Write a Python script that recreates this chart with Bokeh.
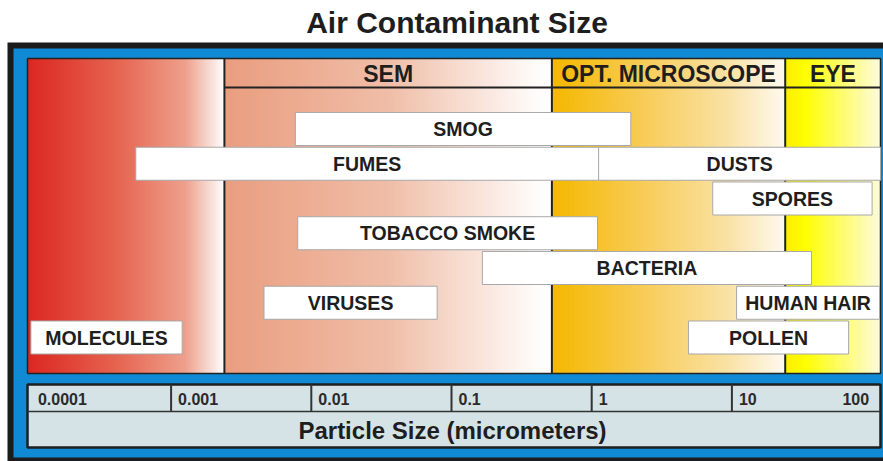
import numpy as np
from bokeh.plotting import figure
from bokeh.models import Range1d, LinearScale, ColumnDataSource
from bokeh.core.properties import value
from bokeh.embed import file_html
from bokeh.resources import INLINE

# ---------------- data ----------------
TITLE = "Air Contaminant Size"
AXIS_LABEL = "Particle Size (micrometers)"

contaminants = ["SMOG", "FUMES", "DUSTS", "SPORES", "TOBACCO SMOKE",
                "BACTERIA", "VIRUSES", "HUMAN HAIR", "MOLECULES", "POLLEN"]
size_min = [0.0077, 0.00056, 1.12, 7.3, 0.008, 0.166, 0.0046, 10.8, 0.0001, 4.9]
size_max = [1.9, 1.12, 115.0, 100.0, 1.1, 37.0, 0.079, 113.0, 0.0012, 68.0]
row = [0, 1, 1, 2, 3, 4, 5, 5, 6, 6]

region_names = ["", "SEM", "OPT. MICROSCOPE", "EYE"]
region_edges = [0.000095, 0.0024, 0.52, 24.0, 115.0]

tick_values = [0.0001, 0.001, 0.01, 0.1, 1, 10, 100]
tick_labels = ["0.0001", "0.001", "0.01", "0.1", "1", "10", "100"]

# ---------------- layout / style ----------------
W, H = 883, 461
PX_LEFT, PX_RIGHT, PX_BOTTOM, PX_TOP = 0, 883, 461, 0
PX_AT_ONE, PX_PER_DECADE = 591.2, 140.2
ROW0, ROW_H = 128.5, 34.75
FONT = value("Liberation Sans")
INK = "#1e1e1e"

region_stops = [
    [(0.0, (220, 40, 34)), (0.45, (230, 100, 80)), (0.8, (238, 160, 140)), (1.0, (255, 255, 255))],
    [(0.0, (234, 158, 128)), (0.5, (240, 190, 168)), (0.95, (255, 252, 250)), (1.0, (255, 255, 255))],
    [(0.0, (245, 185, 0)), (0.4, (248, 205, 90)), (0.75, (250, 226, 165)), (1.0, (255, 250, 240))],
    [(0.0, (255, 238, 0)), (0.2, (255, 255, 0)), (1.0, (255, 252, 222))],
]

def px_to_um(px):
    return 10 ** ((px - PX_AT_ONE) / PX_PER_DECADE)

p = figure(width=W, height=H, x_axis_type="log",
           x_range=Range1d(px_to_um(PX_LEFT), px_to_um(PX_RIGHT)),
           y_range=Range1d((PX_BOTTOM - ROW0) / ROW_H, (PX_TOP - ROW0) / ROW_H),
           output_backend="svg", toolbar_location=None, title=None,
           min_border=0, x_axis_location=None, y_axis_location=None,
           outline_line_color=None, background_fill_color="white",
           border_fill_color="white")
p.grid.visible = False
p.extra_x_ranges = {"px": Range1d(PX_LEFT, PX_RIGHT)}
p.extra_x_scales = {"px": LinearScale()}
p.extra_y_ranges = {"px": Range1d(PX_BOTTOM, PX_TOP)}

PX = dict(x_range_name="px", y_range_name="px")

# outer frame
p.quad(left=[7], right=[900], top=[42], bottom=[480], fill_color="#1b1b1b", line_color=None, **PX)
p.quad(left=[13], right=[900], top=[48], bottom=[457], fill_color="#118ad5", line_color=None, **PX)

# gradient regions
CH_TOP, CH_BOT = 58, 373
for i in range(4):
    la, lb = np.log10(region_edges[i]), np.log10(region_edges[i + 1])
    n = 140
    t = np.linspace(0, 1, n + 1)
    lefts = 10 ** (la + (lb - la) * t[:-1])
    rights = 10 ** (la + (lb - la) * np.minimum(t[1:] + 1.0 / n, 1.0))
    tm = (t[:-1] + t[1:]) / 2
    st = [s[0] for s in region_stops[i]]
    cols = []
    for c in range(3):
        cols.append(np.interp(tm, st, [s[1][c] for s in region_stops[i]]))
    colors = ["#%02x%02x%02x" % (int(r), int(g), int(b)) for r, g, b in zip(*cols)]
    p.quad(left=lefts, right=rights, top=CH_TOP, bottom=CH_BOT, fill_color=colors,
           line_color=None, y_range_name="px")

# header line and dividers
p.segment(x0=[region_edges[1]], x1=[region_edges[-1]], y0=[87], y1=[87],
          line_color="#222222", line_width=2, y_range_name="px")
p.segment(x0=region_edges[1:4], x1=region_edges[1:4], y0=CH_TOP, y1=CH_BOT,
          line_color="#222222", line_width=2, y_range_name="px")
p.quad(left=[27], right=[880], top=[CH_TOP], bottom=[CH_BOT], fill_color=None,
       line_color="#222222", line_width=1.5, **PX)

# header labels
hx = [np.sqrt(region_edges[i] * region_edges[i + 1]) for i in range(1, 4)]
p.text(x=hx, y=[73] * 3, text=region_names[1:], text_font=FONT, text_font_style="bold",
       text_font_size="23px", text_color=INK, text_align="center", text_baseline="middle",
       y_range_name="px")

# bars
src = ColumnDataSource(dict(
    left=size_min, right=size_max,
    top=[r - 0.475 for r in row], bottom=[r + 0.475 for r in row],
    xc=[np.sqrt(a * b) for a, b in zip(size_min, size_max)], yc=row, name=contaminants))
p.quad(left="left", right="right", top="top", bottom="bottom", source=src,
       fill_color="white", line_color="#a8a8a8", line_width=1)
p.text(x="xc", y="yc", text="name", source=src, text_font=FONT, text_font_style="bold",
       text_font_size="19.5px", text_color=INK, text_align="center", text_baseline="middle")

# axis box
p.quad(left=[27], right=[880], top=[384], bottom=[447], fill_color="#d5e3e7",
       line_color=INK, line_width=2.5, **PX)
p.segment(x0=[27], x1=[880], y0=[411], y1=[411], line_color="#333333", line_width=1.5, **PX)
p.segment(x0=tick_values[1:-1], x1=tick_values[1:-1], y0=384, y1=411,
          line_color="#333333", line_width=2, y_range_name="px")
p.text(x=tick_values[:-1], y=[398] * (len(tick_values) - 1), text=tick_labels[:-1],
       text_font=FONT, text_font_style="bold", text_font_size="16px", text_color="#2a2a2a",
       text_align="left", text_baseline="middle", x_offset=7, y_range_name="px")
p.text(x=tick_values[-1:], y=[398], text=tick_labels[-1:],
       text_font=FONT, text_font_style="bold", text_font_size="16px", text_color="#2a2a2a",
       text_align="right", text_baseline="middle", x_offset=-3, y_range_name="px")
p.text(x=[452], y=[430], text=[AXIS_LABEL], text_font=FONT, text_font_style="bold",
       text_font_size="24px", text_color=INK, text_align="center", text_baseline="middle", **PX)

# title
p.text(x=[456.5], y=[22], text=[TITLE], text_font=FONT, text_font_style="bold",
       text_font_size="30px", text_color=INK, text_align="center", text_baseline="middle", **PX)

open("out.html", "w").write(file_html(p, INLINE))
